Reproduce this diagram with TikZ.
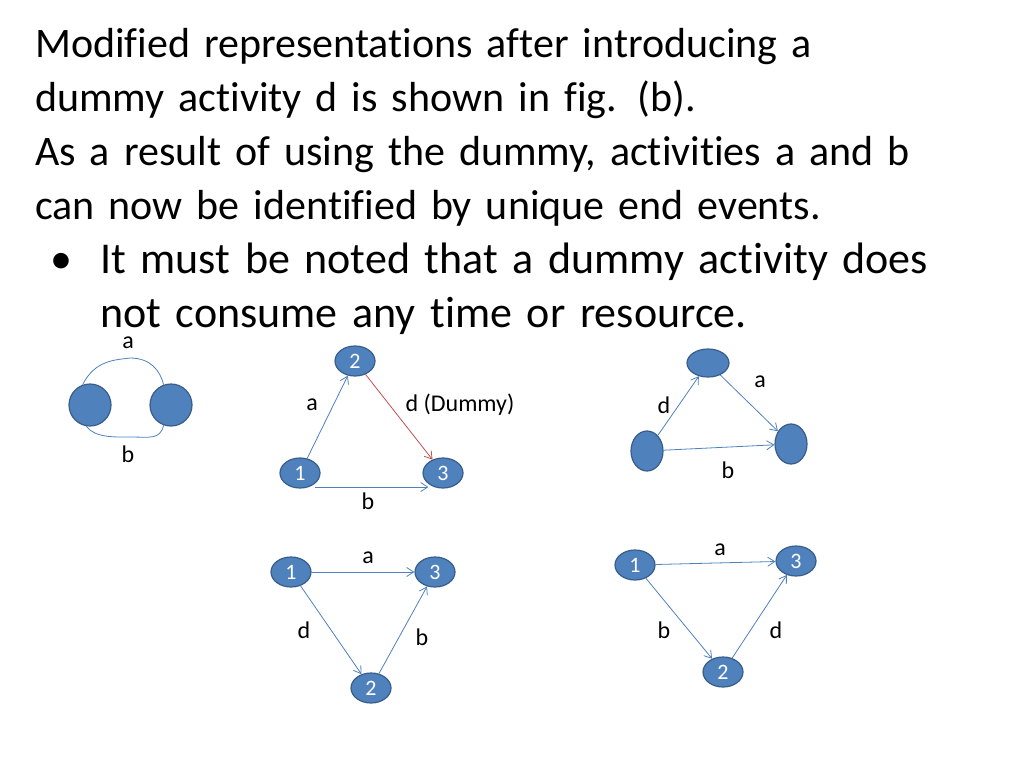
\documentclass[tikz,border=0pt]{standalone}
\usepackage{fontspec}
\setmainfont[RawFeature=-liga]{Carlito}
\definecolor{nodefill}{HTML}{4F81BD}
\definecolor{nodeline}{HTML}{385D8A}
\definecolor{dummyred}{HTML}{C0504D}
\usetikzlibrary{shapes.geometric,arrows.meta}
\tikzset{
  ev/.style={draw=nodeline, fill=nodefill, ellipse, line width=1.2pt, inner sep=0, minimum width=40pt, minimum height=30pt, text=white, font=\fontsize{22}{22}\selectfont},
  act/.style={-{Straight Barb[length=7pt,width=9pt]}, draw=nodefill, line width=0.8pt},
  lbl/.style={font=\fontsize{24}{24}\selectfont}
}
\newcommand{\fullline}[1]{\makebox[927pt][s]{#1}\\}
\begin{document}
\begin{tikzpicture}[x=1pt,y=-1pt]
\useasboundingbox (0,0) rectangle (1024,768);
\node (para) [anchor=north west, text width=927pt, align=left, inner sep=0, font=\fontsize{42}{54}\selectfont] at (35,28)
  {\fullline{Modified representations after introducing a}
   \fullline{dummy activity d is shown in fig. (b).}
   \fullline{As a result of using the dummy, activities a and b}
   can now be identified by unique end events.};
\node (bul) [anchor=north west, text width=900pt, align=left, inner sep=0, font=\fontsize{44}{54}\selectfont] at (50,243)
  {\makebox[50pt][l]{\textbullet}It must be noted that a dummy activity does\\\hspace{50pt}not consume any time or resource.};
% fig (a)
\node (l1) [ev, circle, minimum size=42pt] at (90,405) {};
\node (l2) [ev, circle, minimum size=42pt] at (171,405) {};
\draw[nodefill, line width=0.8pt] (l1.110) .. controls (95,360) and (115,360) .. (130,358) .. controls (150,358) and (160,370) .. (l2.110);
\draw[nodefill, line width=0.8pt] (l1.-100) .. controls (95,438) and (115,437) .. (130,437) .. controls (150,437) and (160,440) .. (l2.-110);
\node (la) [lbl] at (128,343) {a};
\node (lb) [lbl] at (128,454) {b};
% fig (b)
\node (b2) [ev] at (355,361) {2};
\node (b1) [ev] at (300,473) {1};
\node (b3) [ev] at (443,473) {3};
\draw[act] (b1) -- (b2);
\draw[act, draw=dummyred] (b2) -- (b3);
\draw[act] ([yshift=-3]b1.south east) -- ([yshift=-3]b3.south west);
\node [lbl] at (312,405) {a};
\node [lbl] at (460,405) {d (Dummy)};
\node [lbl] at (368,501) {b};
% top right
\node (r1) [ev, minimum width=32pt, minimum height=40pt] at (647,451) {};
\node (r2) [ev, minimum width=42pt, minimum height=28pt] at (708,363) {};
\node (r3) [ev, minimum width=32pt, minimum height=40pt] at (791,444) {};
\draw[act] (r1) -- (r2);
\draw[act] (r2) -- (r3);
\draw[act] (r1) -- (r3);
\node [lbl] at (760,382) {a};
\node [lbl] at (664,405) {d};
\node [lbl] at (728,470) {b};
% bottom middle
\node (c1) [ev] at (291,572) {1};
\node (c3) [ev] at (435,572) {3};
\node (c2) [ev] at (371,688) {2};
\draw[act] (c1) -- (c3);
\draw[act] (c1) -- (c2);
\draw[act] (c2) -- (c3);
\node [lbl] at (368,558) {a};
\node [lbl] at (304,630) {d};
\node [lbl] at (422,637) {b};
% bottom right
\node (d1) [ev] at (635,565) {1};
\node (d3) [ev] at (796,561) {3};
\node (d2) [ev] at (723,672) {2};
\draw[act] (d1) -- (d3);
\draw[act] (d1) -- (d2);
\draw[act] (d2) -- (d3);
\node [lbl] at (720,550) {a};
\node [lbl] at (664,630) {b};
\node [lbl] at (776,630) {d};
\end{tikzpicture}
\end{document}
